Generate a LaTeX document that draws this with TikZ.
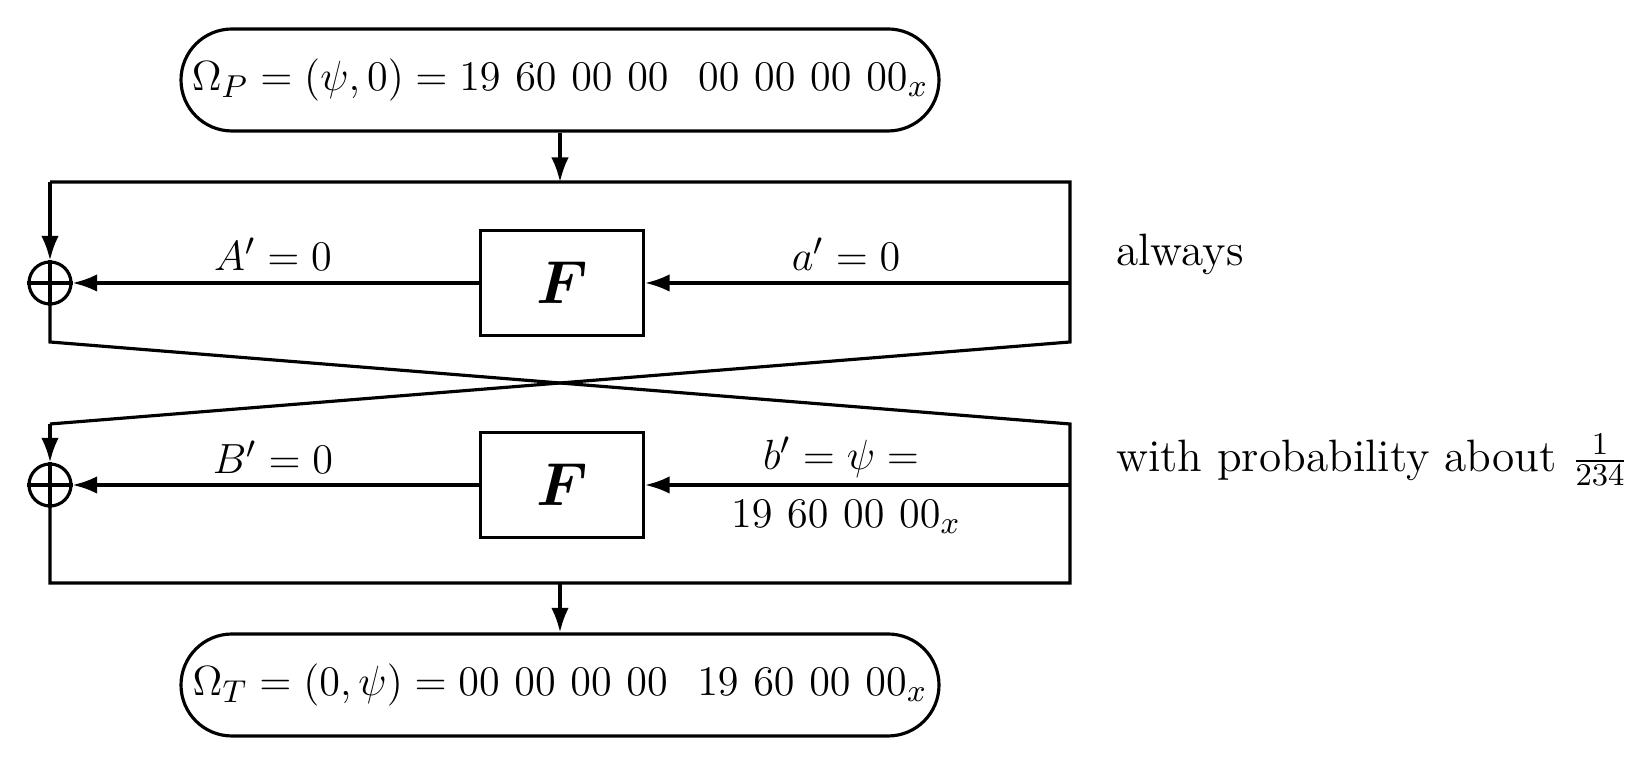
\documentclass[tikz,border=0pt]{standalone}
\usepackage{amsmath,amssymb}
\usepackage{tikz}
\usetikzlibrary{arrows.meta,positioning,calc,shapes.misc}
\newcommand{\dfont}{\fontsize{12.9}{15}\selectfont}
\tikzset{
  wire/.style={line width=0.9pt},
  arr/.style={-{Latex[length=7pt,width=5pt]},line width=0.9pt},
  fbox/.style={draw,line width=0.9pt,minimum width=1.63cm,minimum height=1.05cm,font=\LARGE},
  xorc/.style={circle,draw,line width=0.9pt,minimum size=0.42cm,inner sep=0pt},
  capbox/.style={rounded rectangle,draw,line width=0.9pt,minimum width=7.58cm,minimum height=1.02cm,inner sep=0pt,font=\dfont},
  lbl/.style={font=\dfont,inner sep=1pt},
}
\begin{document}
\begin{tikzpicture}
  \useasboundingbox (0,0) rectangle (16.48,-7.72);
  % plaintext and ciphertext differences
  \node[capbox] (inp) at (5.60,-0.80) {$\Omega_P=(\psi,0)=19\ 60\ 00\ 00\ \ 00\ 00\ 00\ 00_x$};
  \node[capbox] (outp) at (5.60,-6.85) {$\Omega_T=(0,\psi)=00\ 00\ 00\ 00\ \ 19\ 60\ 00\ 00_x$};
  % corners of the two rounds
  \coordinate (tl) at (0.50,-1.82);
  \coordinate (tr) at (10.70,-1.82);
  \coordinate (tm) at (5.60,-1.82);
  \coordinate (ml1) at (0.50,-3.42);
  \coordinate (mr1) at (10.70,-3.42);
  \coordinate (ml2) at (0.50,-4.24);
  \coordinate (mr2) at (10.70,-4.24);
  \coordinate (bl) at (0.50,-5.83);
  \coordinate (br) at (10.70,-5.83);
  \coordinate (bm) at (5.60,-5.83);
  \coordinate (ra) at (10.70,-2.83);
  \coordinate (rb) at (10.70,-4.85);
  % round functions and xors
  \node[fbox] (f1) at (5.62,-2.83) {$\boldsymbol{F}$};
  \node[fbox] (f2) at (5.62,-4.85) {$\boldsymbol{F}$};
  \node[xorc] (x1) at (0.50,-2.83) {};
  \node[xorc] (x2) at (0.50,-4.85) {};
  \foreach \x in {x1,x2}{
    \draw[wire] (\x.north) -- (\x.south);
    \draw[wire] (\x.west) -- (\x.east);
  }
  % wires
  \draw[arr] (inp.south) -- (tm);
  \draw[wire] (tl) -- (tr) -- (mr1) -- (ml2);
  \draw[arr] (tl) -- (x1.north);
  \draw[wire] (x1.south) -- (ml1) -- (mr2) -- (br) -- (bl) -- (x2.south);
  \draw[arr] (ml2) -- (x2.north);
  \draw[arr] (ra) -- (f1.east);
  \draw[arr] (f1.west) -- (x1.east);
  \draw[arr] (rb) -- (f2.east);
  \draw[arr] (f2.west) -- (x2.east);
  \draw[arr] (bm) -- (outp.north);
  % labels
  \node[lbl] (la) at (2.73,-2.54) {$A'=0$};
  \node[lbl] (lsa) at (8.46,-2.54) {$a'=0$};
  \node[lbl] (lb) at (2.73,-4.57) {$B'=0$};
  \node[lbl] (lsb) at (8.41,-4.57) {$b'=\psi=$};
  \node[lbl] (lhex) at (8.46,-5.17) {$19\ 60\ 00\ 00_x$};
  \node[lbl,anchor=west] (p1) at (11.12,-2.54) {always};
  \node[lbl,anchor=west] (p2) at (11.12,-4.60) {with probability about $\frac{1}{234}$};
\end{tikzpicture}
\end{document}
